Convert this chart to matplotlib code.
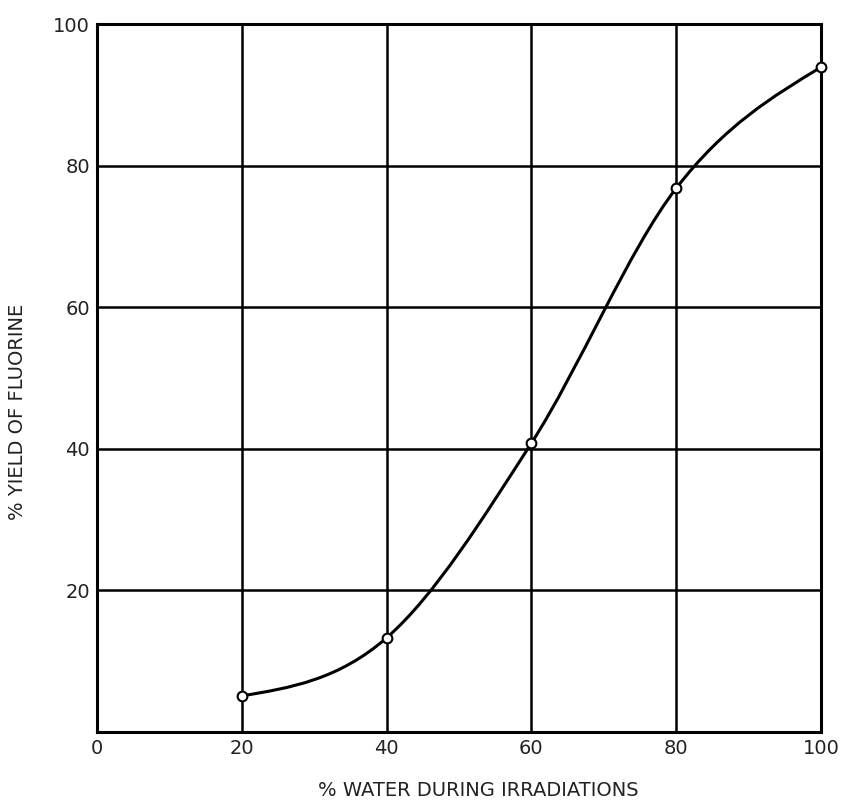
import numpy as np
import matplotlib
matplotlib.use("Agg")
from matplotlib import pyplot as plt
from matplotlib.path import Path
from matplotlib.patches import PathPatch

water = [20, 40, 60, 80, 100]
yield_f = [5.1, 13.3, 40.8, 76.8, 93.9]
ticks = [0, 20, 40, 60, 80, 100]


def smooth_path(xs, ys):
    # Catmull-Rom through the points, drawn as cubic Bezier segments
    pts = np.column_stack([xs, ys]).astype(float)
    n = len(pts)
    tan = [None] * n
    for i in range(1, n - 1):
        tan[i] = (pts[i + 1] - pts[i - 1]) / 2
    # natural-ish ends (no curvature at the end points)
    tan[0] = (3 * (pts[1] - pts[0]) - tan[1]) / 2
    tan[-1] = (3 * (pts[-1] - pts[-2]) - tan[-2]) / 2
    verts = [pts[0]]
    codes = [Path.MOVETO]
    for i in range(n - 1):
        verts += [pts[i] + tan[i] / 3, pts[i + 1] - tan[i + 1] / 3, pts[i + 1]]
        codes += [Path.CURVE4] * 3
    return Path(verts, codes)


fig = plt.figure(figsize=(8.52, 8.11), dpi=100)
ax = fig.add_axes([97 / 852, 1 - 732 / 811, 724 / 852, 708 / 811])

ax.set_xlim(0, 100)
ax.set_ylim(0, 100)
ax.set_xticks(ticks)
ax.set_yticks(ticks[1:])
ax.grid(True, color="black", linewidth=1.8)
ax.tick_params(length=0, labelsize=14, pad=5, labelcolor="#222222")
for s in ax.spines.values():
    s.set_linewidth(2.2)

ax.add_patch(PathPatch(smooth_path(water, yield_f), fill=False,
                       edgecolor="black", linewidth=2.2, zorder=3))
ax.plot(water, yield_f, "o", markersize=7, markerfacecolor="white",
        markeredgecolor="black", markeredgewidth=1.5, zorder=4,
        clip_on=False)

fig.text(478 / 852, 1 - 790 / 811, "% WATER DURING IRRADIATIONS",
         ha="center", va="center", fontsize=14, color="#222222")
fig.text(18 / 852, 1 - 412 / 811, "% YIELD OF FLUORINE",
         ha="center", va="center", rotation=90, fontsize=14, color="#222222")

fig.savefig("out.png", dpi=100)
